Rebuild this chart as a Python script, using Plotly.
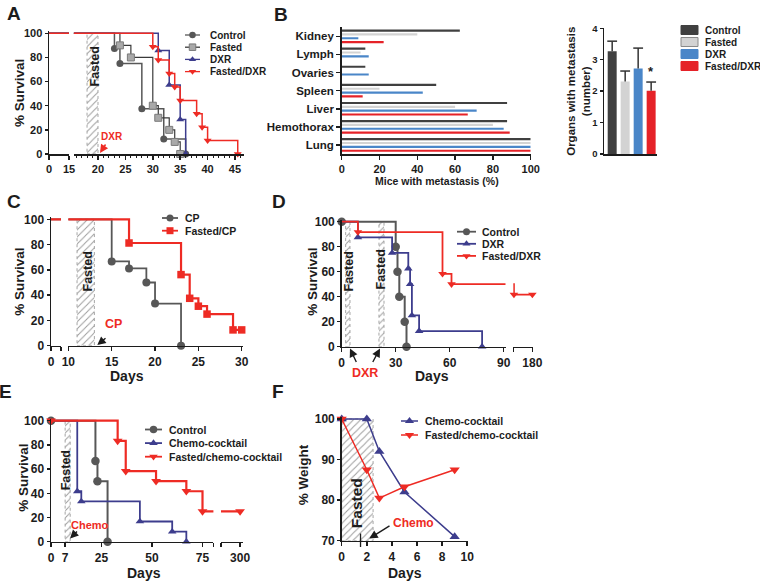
import plotly.graph_objects as go

W, H = 760, 585
FONT = "Liberation Sans, Arial, Helvetica, sans-serif"
INK = '#1c1c1c'
GRAY = '#575757'
LGRAY = '#a9a9a9'
NAVY = '#3d3d8d'
RED = '#ee2b24'

# ---------------- data ----------------
# Panel A  (Kaplan-Meier: days, % survival)
A_ctrl_days = [0, 23, 24, 28, 32, 36]
A_ctrl_surv = [100, 87.5, 75, 37.5, 12.5, 0]
A_fast_days = [0, 24, 26, 30, 31, 33, 34, 35]
A_fast_surv = [100, 90, 80, 40, 30, 20, 10, 0]
A_dxr_days = [0, 31, 33, 35, 36]
A_dxr_surv = [100, 85.7, 57.1, 28.6, 0]
A_fdxr_days = [0, 30, 31, 33, 34, 35, 38, 39, 40, 45.5]
A_fdxr_surv = [100, 88.9, 77.8, 66.7, 55.6, 44.4, 33.3, 22.2, 11.1, 0]
A_fasting = [18, 20]
A_ticks_left = [0, 15]
A_ticks_right = [20, 25, 30, 35, 40, 45]
SURV_TICKS = [0, 20, 40, 60, 80, 100]

# Panel B (left): mice with metastasis (%)
B_organs = ['Kidney', 'Lymph', 'Ovaries', 'Spleen', 'Liver', 'Hemothorax', 'Lung']
B_ctrl = [62.5, 12.5, 12.5, 50, 87.5, 87.5, 100]
B_fast = [40, 10, 0, 20, 60, 80, 100]
B_dxr = [8.8, 14.3, 14.3, 42.9, 71.4, 85.7, 100]
B_fdxr = [22.2, 0, 0, 11.1, 66.7, 88.9, 100]
B_xticks = [0, 20, 40, 60, 80, 100]
# Panel B (right): organs with metastasis (number)
B_groups = ['Control', 'Fasted', 'DXR', 'Fasted/DXR']
B_mean = [3.27, 2.31, 2.72, 2.01]
B_err = [0.32, 0.33, 0.65, 0.28]
B_colors = ['#404040', '#d3d3d3', '#4a86c8', '#e52228']

# Panel C
C_cp_days = [0, 15, 17, 19, 20, 23]
C_cp_surv = [100, 66.7, 61.1, 50, 33.3, 0]
C_fcp_days = [0, 17, 23, 24, 25, 26, 29, 30]
C_fcp_surv = [100, 81.25, 56.25, 37.5, 31.25, 25, 12.5, 12.5]
C_fasting = [11, 13]
C_ticks_right = [10, 15, 20, 25, 30]

# Panel D
D_ctrl_days = [0, 30, 31, 32, 35, 36]
D_ctrl_surv = [100, 80, 60, 40, 20, 0]
D_dxr_days = [0, 9, 28, 37, 38, 39, 43, 78]
D_dxr_surv = [100, 87.5, 75, 62.5, 50, 25, 12.5, 0]
D_fdxr_days = [0, 9, 56, 61, 151, 180]
D_fdxr_surv = [100, 91.7, 58.3, 50, 41.7, 41.7]
D_fasting = [[2.2, 4.6], [20.7, 23.5]]
D_ticks_left = [0, 30, 60, 90]

# Panel E
E_ctrl_days = [0, 22, 23, 28]
E_ctrl_surv = [100, 66.7, 50, 0]
E_chemo_days = [0, 13, 15, 44, 60, 67]
E_chemo_surv = [100, 41.7, 33.3, 16.7, 8.3, 0]
E_fchemo_days = [0, 33, 37, 52, 67, 75, 300]
E_fchemo_surv = [100, 83.3, 58.3, 50, 41.7, 25, 25]
E_fasting = [7, 9.5]
E_ticks_left = [0, 7, 25, 50, 75]

# Panel F (% weight)
F_days = [0, 2, 3, 5, 9]
F_chemo = [100, 100, 92, 82, 71]
F_fchemo = [100, 87.5, 80.5, 83.3, 87.5]
F_fasting = [0, 2.5]
F_chemo_day = 1.5

# ---------------- helpers ----------------
fig = go.Figure()
L = {}
ANN = []
SHP = []


def lin(va, pa, vb, pb):
    k = (pb - pa) / (vb - va)
    return lambda v: pa + (v - va) * k


def xdom(f, r):
    a, b = f(r[0]), f(r[1])
    return [min(a, b) / W, max(a, b) / W]


def ydom(f, r):
    a, b = f(r[0]), f(r[1])
    return [1 - max(a, b) / H, 1 - min(a, b) / H]


def axis(dom, rng, anchor, size=11, **kw):
    d = dict(domain=dom, range=rng, anchor=anchor, showgrid=False, zeroline=False,
             showline=True, linecolor=INK, linewidth=1.5, ticks='outside', ticklen=4,
             tickwidth=1.5, tickcolor=INK, automargin=False, fixedrange=True,
             tickfont=dict(family=FONT, size=size, color=INK, weight='bold'))
    d.update(kw)
    return d


def km(xa, ya, rng, days, surv, color, symbol, msize, lw, show_start=False, mline=None, mcolor=None):
    fig.add_trace(go.Scatter(x=days, y=surv, mode='lines', xaxis=xa, yaxis=ya,
                             line=dict(color=color, width=lw, shape='hv'),
                             hoverinfo='skip', showlegend=False))
    mx, my = [], []
    for i, (d, s) in enumerate(zip(days, surv)):
        if i == 0 and not show_start:
            continue
        if rng[0] <= d <= rng[1]:
            mx.append(d)
            my.append(s)
    if mx:
        fig.add_trace(go.Scatter(x=mx, y=my, mode='markers', xaxis=xa, yaxis=ya, cliponaxis=False,
                                 marker=dict(symbol=symbol, size=msize, color=mcolor or color,
                                             line=mline or dict(width=0)),
                                 hoverinfo='skip', showlegend=False))


def fasting(xa, ya, x0, x1, y0, y1):
    fig.add_trace(go.Scatter(x=[x0, x1, x1, x0, x0], y=[y0, y0, y1, y1, y0], mode='lines',
                             xaxis=xa, yaxis=ya, fill='toself', fillcolor='white',
                             fillpattern=dict(shape='/', fgcolor='#9d9d9d', bgcolor='white',
                                              size=5, solidity=0.2),
                             line=dict(color='#a5a5a5', width=1, dash='dot'),
                             hoverinfo='skip', showlegend=False))


def txt(x, y, s, size, color=INK, angle=0, xanchor='center', weight='bold'):
    ANN.append(dict(x=x, y=y, xref='x12', yref='y12', text=s, showarrow=False,
                    textangle=angle, xanchor=xanchor, yanchor='middle',
                    font=dict(family=FONT, size=size, color=color, weight=weight)))


def arrow(hx, hy, tx, ty, color=INK):
    ANN.append(dict(x=hx, y=hy, xref='x12', yref='y12', ax=tx, ay=ty, axref='x12', ayref='y12',
                    text='', showarrow=True, arrowhead=2, arrowsize=1.2, arrowwidth=1.4,
                    arrowcolor=color, standoff=0, startstandoff=0))


def glyph(x0, x1, y, color, symbol, msize, lw, mcolor=None, mline=None):
    fig.add_trace(go.Scatter(x=[x0, x1], y=[y, y], mode='lines', xaxis='x12', yaxis='y12',
                             line=dict(color=color, width=lw), hoverinfo='skip', showlegend=False))
    fig.add_trace(go.Scatter(x=[(x0 + x1) / 2], y=[y], mode='markers', xaxis='x12', yaxis='y12',
                             cliponaxis=False,
                             marker=dict(symbol=symbol, size=msize, color=mcolor or color,
                                         line=mline or dict(width=0)),
                             hoverinfo='skip', showlegend=False))


# ---------------- Panel A ----------------
A_y = lin(100, 33.3, 0, 154)
A_x1 = lin(0, 49, 15, 69)
A_x2 = lin(20, 98, 45, 235)
A_yr = [0, 101.5]
A_r1 = [0, 15]
A_r2 = [15.6, 46.7]
L['yaxis'] = axis(ydom(A_y, A_yr), A_yr, 'x', tickvals=SURV_TICKS, ticklen=3)
L['xaxis'] = axis(xdom(A_x1, A_r1), A_r1, 'y', tickvals=A_ticks_left)
L['xaxis2'] = axis(xdom(A_x2, A_r2), A_r2, 'y', tickvals=A_ticks_right,
                   minor=dict(ticks='outside', dtick=1, tick0=0, ticklen=2, tickwidth=1, tickcolor=INK))
fasting('x2', 'y', A_fasting[0], A_fasting[1], 0, 100)
for xa, rng in (('x', A_r1), ('x2', A_r2)):
    km(xa, 'y', rng, A_ctrl_days, A_ctrl_surv, GRAY, 'circle', 7, 1.5)
    km(xa, 'y', rng, A_fast_days, A_fast_surv, '#3a3a3a', 'square', 7, 1.2,
       mcolor=LGRAY, mline=dict(color='#7a7a7a', width=1))
    km(xa, 'y', rng, A_dxr_days, A_dxr_surv, NAVY, 'triangle-up', 7, 1.5)
    km(xa, 'y', rng, A_fdxr_days, A_fdxr_surv, RED, 'triangle-down', 7, 1.5)
txt(94, 66.5, 'Fasted', 12.5, angle=-90)
txt(112, 136.5, 'DXR', 10, color=RED)
arrow(100, 153, 106.5, 143, RED)
txt(19.5, 93.5, '% Survival', 13.5, angle=-90)
txt(13.7, 13.8, 'A', 19)
legA = [('Control', GRAY, 'circle', None, None, GRAY),
        ('Fasted', '#3a3a3a', 'square', LGRAY, dict(color='#7a7a7a', width=1), '#3a3a3a'),
        ('DXR', NAVY, 'triangle-up', None, None, NAVY),
        ('Fasted/DXR', RED, 'triangle-down', None, None, RED)]
for i, (lab, col, sym, mc, ml, lc) in enumerate(legA):
    y = 35 + 12.2 * i
    glyph(185, 200, y, lc, sym, 6.5, 1.3, mcolor=mc or col, mline=ml)
    txt(207.5, y, lab, 10, xanchor='left')

# ---------------- Panel B (left) ----------------
B_x = lin(0, 341.7, 100, 530.7)
B_xr = [0, 100]
L['xaxis3'] = axis(xdom(B_x, B_xr), B_xr, 'y3', tickvals=B_xticks)
L['yaxis3'] = axis([1 - 154 / H, 1 - 27.3 / H], [6.5, -0.5], 'x3', size=11.5, type='category',
                   categoryorder='array', categoryarray=B_organs, ticklen=4)
for vals, col in zip([B_ctrl, B_fast, B_dxr, B_fdxr], B_colors):
    fig.add_trace(go.Bar(y=B_organs, x=vals, orientation='h', xaxis='x3', yaxis='y3',
                         marker=dict(color=col, line=dict(width=0)), hoverinfo='skip',
                         showlegend=False))
txt(436.5, 181, 'Mice with metastasis (%)', 10.5)
txt(280.8, 14, 'B', 19)

# ---------------- Panel B (right) ----------------
B_ry = lin(0, 154, 4, 28.3)
B_ryr = [0, 4]
B_rxr = [-0.63, 3.45]
L['xaxis4'] = axis([604 / W, 657 / W], B_rxr, 'y4', type='category', categoryorder='array',
                   categoryarray=B_groups, showticklabels=False, ticks='')
L['yaxis4'] = axis(ydom(B_ry, B_ryr), B_ryr, 'x4', size=9.5, tickvals=[0, 1, 2, 3, 4], ticklen=3)
fig.add_trace(go.Bar(x=B_groups, y=B_mean, xaxis='x4', yaxis='y4', width=0.69,
                     marker=dict(color=B_colors, line=dict(width=0)),
                     error_y=dict(type='data', symmetric=False, array=B_err,
                                  arrayminus=[0] * len(B_err), width=0, thickness=1.5, color='#333'),
                     hoverinfo='skip', showlegend=False))
fig.add_trace(go.Scatter(x=B_groups, y=[m + e for m, e in zip(B_mean, B_err)], mode='markers',
                         xaxis='x4', yaxis='y4', cliponaxis=False,
                         marker=dict(symbol='line-ew', size=7, line=dict(color='#333', width=1.5)),
                         hoverinfo='skip', showlegend=False))
ANN.append(dict(x=B_groups[3], y=B_mean[3] + B_err[3], xref='x4', yref='y4', text='*',
                showarrow=False, yanchor='bottom', yshift=1,
                font=dict(family=FONT, size=13, color=INK, weight='bold')))
txt(578.3, 91.5, 'Organs with metastasis<br>(number)', 11.5, angle=-90)
for i, (lab, col) in enumerate(zip(B_groups, B_colors)):
    y = 30 + 12 * i
    SHP.append(dict(type='rect', xref='x12', yref='y12', x0=681, x1=698, y0=y - 4.5, y1=y + 4.5,
                    fillcolor=col, line=dict(color='#8a8a8a' if i == 1 else col, width=1)))
    txt(703, y, lab, 10, xanchor='left')

# ---------------- Panel C ----------------
C_y = lin(100, 219.3, 0, 345.7)
C_x1 = lin(0, 51, 1.2, 61)
C_x2 = lin(15, 111.7, 30, 241.7)
C_yr = [0, 101.5]
C_r1 = [0, 1.2]
C_r2 = [10, 30.2]
L['yaxis5'] = axis(ydom(C_y, C_yr), C_yr, 'x5', size=12, tickvals=SURV_TICKS, ticklen=3)
L['xaxis5'] = axis(xdom(C_x1, C_r1), C_r1, 'y5', size=12, tickvals=[0, 1.2], ticktext=['0', ''])
L['xaxis6'] = axis(xdom(C_x2, C_r2), C_r2, 'y5', size=12, tickvals=C_ticks_right)
fasting('x6', 'y5', C_fasting[0], C_fasting[1], 0, 100)
for xa, rng in (('x5', C_r1), ('x6', C_r2)):
    km(xa, 'y5', rng, C_cp_days, C_cp_surv, GRAY, 'circle', 8, 1.8)
    km(xa, 'y5', rng, C_fcp_days, C_fcp_surv, RED, 'square', 7.5, 2.2)
txt(87.5, 272, 'Fasted', 12.5, angle=-90)
txt(113.5, 324, 'CP', 12.5, color=RED)
arrow(97.3, 345, 107, 337)
txt(20, 281.7, '% Survival', 13.5, angle=-90)
txt(126.7, 376, 'Days', 14)
txt(13.7, 201.7, 'C', 19)
for i, (lab, col, sym) in enumerate([('CP', GRAY, 'circle'), ('Fasted/CP', RED, 'square')]):
    y = 218 + 12.7 * i
    glyph(162, 178, y, col, sym, 7, 1.8)
    txt(182.7, y, lab, 10.5, xanchor='left')

# ---------------- Panel D ----------------
D_y = lin(100, 221.7, 0, 346.7)
D_x1 = lin(0, 341.7, 90, 503.7)
D_x2 = lin(150, 513.3, 181, 533)
D_yr = [0, 101.5]
D_r1 = [0, 91]
D_r2 = [150, 181]
L['yaxis7'] = axis(ydom(D_y, D_yr), D_yr, 'x7', size=12, tickvals=SURV_TICKS, ticklen=3)
L['xaxis7'] = axis(xdom(D_x1, D_r1), D_r1, 'y7', size=12, tickvals=D_ticks_left)
L['xaxis8'] = axis(xdom(D_x2, D_r2), D_r2, 'y7', size=12, tickvals=[150, 180], ticktext=['', '180'])
for f0, f1 in D_fasting:
    fasting('x7', 'y7', f0, f1, 0, 100)
for xa, rng in (('x7', D_r1), ('x8', D_r2)):
    km(xa, 'y7', rng, D_ctrl_days, D_ctrl_surv, GRAY, 'circle', 8.5, 2, show_start=True)
    km(xa, 'y7', rng, D_dxr_days, D_dxr_surv, NAVY, 'triangle-up', 7.5, 1.8)
    km(xa, 'y7', rng, D_fdxr_days, D_fdxr_surv, RED, 'triangle-down', 7.5, 1.8)
txt(348.5, 272, 'Fasted', 12.5, angle=-90)
txt(380.5, 270, 'Fasted', 12.5, angle=-90)
txt(365, 372.5, 'DXR', 12.5, color=RED)
arrow(350, 348.5, 357, 363.5)
arrow(380, 348.5, 372, 363.5)
txt(311.7, 282, '% Survival', 13.5, angle=-90)
txt(431.7, 376, 'Days', 14)
txt(279, 201.7, 'D', 19)
for i, (lab, col, sym) in enumerate([('Control', GRAY, 'circle'), ('DXR', NAVY, 'triangle-up'),
                                     ('Fasted/DXR', RED, 'triangle-down')]):
    y = 231.7 + 12.1 * i
    glyph(457, 476, y, col, sym, 7, 1.8)
    txt(480, y, lab, 10.5, xanchor='left')

# ---------------- Panel E ----------------
E_y = lin(100, 420.7, 0, 541.7)
E_x1 = lin(0, 51, 75, 202.5)
E_x2 = lin(289, 221, 301.7, 243)
E_yr = [0, 101.5]
E_r1 = [0, 80.4]
E_r2 = [289, 301.7]
L['yaxis9'] = axis(ydom(E_y, E_yr), E_yr, 'x9', size=12, tickvals=SURV_TICKS, ticklen=3)
L['xaxis9'] = axis(xdom(E_x1, E_r1), E_r1, 'y9', size=12, tickvals=E_ticks_left + [80.4],
                   ticktext=[str(t) for t in E_ticks_left] + [''])
L['xaxis10'] = axis(xdom(E_x2, E_r2), E_r2, 'y9', size=12, tickvals=[289, 300], ticktext=['', '300'])
fasting('x9', 'y9', E_fasting[0], E_fasting[1], 0, 100)
for xa, rng in (('x9', E_r1), ('x10', E_r2)):
    km(xa, 'y9', rng, E_ctrl_days, E_ctrl_surv, GRAY, 'circle', 8.5, 2, show_start=True)
    km(xa, 'y9', rng, E_chemo_days, E_chemo_surv, NAVY, 'triangle-up', 7.5, 1.8)
    km(xa, 'y9', rng, E_fchemo_days, E_fchemo_surv, RED, 'triangle-down', 8.5, 2.2, show_start=True)
txt(66.3, 470, 'Fasted', 12.5, angle=-90)
txt(89.5, 525, 'Chemo', 11, color=RED)
arrow(70, 538.5, 78.5, 530)
txt(22.7, 478, '% Survival', 13.5, angle=-90)
txt(144, 572.7, 'Days', 14)
txt(5.5, 391, 'E', 19)
for i, (lab, col, sym) in enumerate([('Control', GRAY, 'circle'), ('Chemo-cocktail', NAVY, 'triangle-up'),
                                     ('Fasted/chemo-cocktail', RED, 'triangle-down')]):
    y = 429.5 + 13.6 * i
    glyph(145, 162, y, col, sym, 7.5, 1.8)
    txt(166.7, y, lab, 10.5, xanchor='left')

# ---------------- Panel F ----------------
F_y = lin(100, 419, 70, 540.7)
F_x = lin(0, 341.7, 10, 467.2)
F_yr = [70, 100.4]
F_xr = [0, 10.05]
L['yaxis11'] = axis(ydom(F_y, F_yr), F_yr, 'x11', size=12, tickvals=[70, 80, 90, 100], ticklen=3)
L['xaxis11'] = axis(xdom(F_x, F_xr), F_xr, 'y11', size=12, tickvals=[0, 2, 4, 6, 8, 10])
fasting('x11', 'y11', F_fasting[0], F_fasting[1], 70, 100)
fig.add_trace(go.Scatter(x=F_days, y=F_chemo, mode='lines+markers', xaxis='x11', yaxis='y11',
                         cliponaxis=False, line=dict(color=NAVY, width=1.5),
                         marker=dict(symbol='triangle-up', size=9, color=NAVY),
                         hoverinfo='skip', showlegend=False))
fig.add_trace(go.Scatter(x=F_days, y=F_fchemo, mode='lines+markers', xaxis='x11', yaxis='y11',
                         cliponaxis=False, line=dict(color=RED, width=1.5),
                         marker=dict(symbol='triangle-down', size=9, color=RED),
                         hoverinfo='skip', showlegend=False))
SHP.append(dict(type='line', xref='x11', yref='y12', x0=F_chemo_day, x1=F_chemo_day, y0=533.5, y1=547,
                line=dict(color=INK, width=1.3)))
txt(356.7, 503.5, 'Fasted', 15.5, angle=-90)
txt(413.5, 522.7, 'Chemo', 12, color=RED)
arrow(369.3, 538.5, 391, 525)
txt(303.3, 475, '% Weight', 13.5, angle=-90)
txt(405, 572.7, 'Days', 14)
txt(278.3, 391, 'F', 19)
for i, (lab, col, sym) in enumerate([('Chemo-cocktail', NAVY, 'triangle-up'),
                                     ('Fasted/chemo-cocktail', RED, 'triangle-down')]):
    y = 421 + 14 * i
    glyph(401, 418, y, col, sym, 8, 1.5)
    txt(423.3, y, lab, 10.5, xanchor='left')

# ---------------- overlay (pixel) axes for labels & legends ----------------
L['xaxis12'] = dict(domain=[0, 1], range=[0, W], visible=False, fixedrange=True, anchor='y12')
L['yaxis12'] = dict(domain=[0, 1], range=[H, 0], visible=False, fixedrange=True, anchor='x12')

fig.update_layout(**L)
fig.update_layout(width=W, height=H, margin=dict(l=0, r=0, t=0, b=0), template='none',
                  paper_bgcolor='white', plot_bgcolor='rgba(0,0,0,0)', showlegend=False,
                  barmode='group', bargap=0.15, bargroupgap=0.45,
                  annotations=ANN, shapes=SHP, font=dict(family=FONT, color=INK))
fig.write_html("out.html", config={'displayModeBar': False, 'staticPlot': True},
               post_script="document.body.style.margin='0';")
